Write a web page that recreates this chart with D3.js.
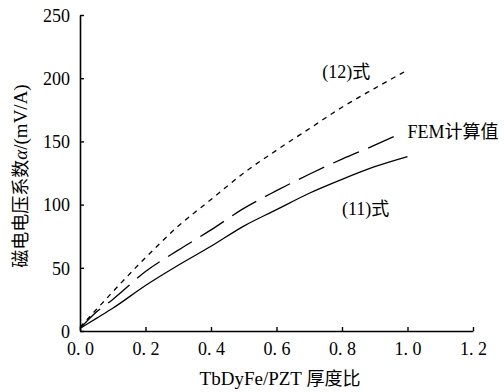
<!DOCTYPE html>
<html lang="zh">
<head>
<meta charset="utf-8">
<title>磁电电压系数</title>
<script src="https://cdn.jsdelivr.net/npm/d3@7"></script>
<style>
  body { margin: 0; background: #fff; }
</style>
</head>
<body>
<svg id="chart" width="504" height="392"></svg>
<script>
// data
var xTicks = [0, 0.2, 0.4, 0.6, 0.8, 1.0, 1.2];
var yTicks = [0, 50, 100, 150, 200, 250];

// (12)式
var eq12X = [0, 0.05, 0.1, 0.2, 0.3, 0.4, 0.5, 0.6, 0.7, 0.8, 0.9, 0.99];
var eq12Y = [3, 17, 31, 58, 83, 104, 125, 143, 160, 177, 192, 205];
// FEM计算值
var femX = [0, 0.05, 0.1, 0.2, 0.3, 0.4, 0.5, 0.6, 0.7, 0.8, 0.9, 0.96];
var femY = [2, 15, 25, 47, 64, 80, 97, 111, 124, 136, 147, 154];
// (11)式
var eq11X = [0, 0.05, 0.1, 0.2, 0.3, 0.4, 0.5, 0.6, 0.7, 0.8, 0.9, 1.0];
var eq11Y = [2, 10, 18, 36, 52, 67, 83, 96, 109, 120, 130, 138];

var SERIF = "'Liberation Serif', 'DejaVu Serif', serif";
var CJK = "'Noto Sans CJK SC', sans-serif";

var svg = d3.select("#chart");

var x = d3.scaleLinear().domain([0, 1.2]).range([80, 473]);
var y = d3.scaleLinear().domain([0, 250]).range([331, 15]);

function zip(xs, ys) {
  return xs.map(function(v, i) { return [v, ys[i]]; });
}

var line = d3.line()
  .x(function(d) { return x(d[0]); })
  .y(function(d) { return y(d[1]); })
  .curve(d3.curveMonotoneX);

var series = [
  { pts: zip(eq12X, eq12Y), dash: "5,5" },
  { pts: zip(femX, femY), dash: "28,10" },
  { pts: zip(eq11X, eq11Y), dash: null }
];

svg.selectAll("path.series")
  .data(series)
  .enter().append("path")
  .attr("class", "series")
  .attr("d", function(d) { return line(d.pts); })
  .attr("fill", "none")
  .attr("stroke", "#000")
  .attr("stroke-width", 1.3)
  .attr("stroke-dasharray", function(d) { return d.dash; });

// axes, ticks pointing inward
var xAxis = svg.append("g")
  .attr("transform", "translate(0," + y(0) + ")")
  .call(d3.axisBottom(x).tickValues(xTicks).tickSizeInner(-4).tickSizeOuter(0)
    .tickFormat(function(d) { return d.toFixed(1).replace(".", ". "); }));

var yAxis = svg.append("g")
  .attr("transform", "translate(" + x(0) + ",0)")
  .call(d3.axisLeft(y).tickValues(yTicks).tickSizeInner(-4).tickSizeOuter(0));

[xAxis, yAxis].forEach(function(g) {
  g.attr("font-family", null).attr("font-size", null);
  g.select(".domain").attr("stroke", "#000").attr("stroke-width", 1.6);
  g.selectAll(".tick line").attr("stroke", "#000").attr("stroke-width", 1.4);
  g.selectAll(".tick text")
    .style("font-family", SERIF)
    .style("font-size", "18px")
    .attr("fill", "#000");
});
xAxis.selectAll(".tick text").attr("y", 11).attr("dy", "0.71em");
yAxis.selectAll(".tick text").attr("x", -10).attr("dy", "0.35em");

// axis titles
var xt = svg.append("text")
  .attr("x", 280).attr("y", 385)
  .attr("text-anchor", "middle")
  .style("font-family", SERIF).style("font-size", "19px");
xt.append("tspan").text("TbDyFe/PZT ");
xt.append("tspan").style("font-family", CJK).style("font-size", "18px").text("厚度比");

var yt = svg.append("text")
  .attr("transform", "translate(27,176) rotate(-90)")
  .attr("text-anchor", "middle")
  .style("font-family", SERIF).style("font-size", "19px");
yt.append("tspan").style("font-family", CJK).style("font-size", "18px").text("磁电电压系数");
yt.append("tspan").style("font-style", "italic").text("α");
yt.append("tspan").text("/(mV/A)");

// curve labels
function label(xv, yv, latin, cjk) {
  var t = svg.append("text")
    .attr("x", x(xv)).attr("y", y(yv))
    .style("font-family", SERIF).style("font-size", "18px");
  t.append("tspan").text(latin);
  t.append("tspan").style("font-family", CJK).style("font-size", "18px").text(cjk);
}
label(0.74, 200, "(12)", "式");
label(1.0, 153, "FEM", "计算值");
label(0.8, 92, "(11)", "式");
</script>
</body>
</html>
